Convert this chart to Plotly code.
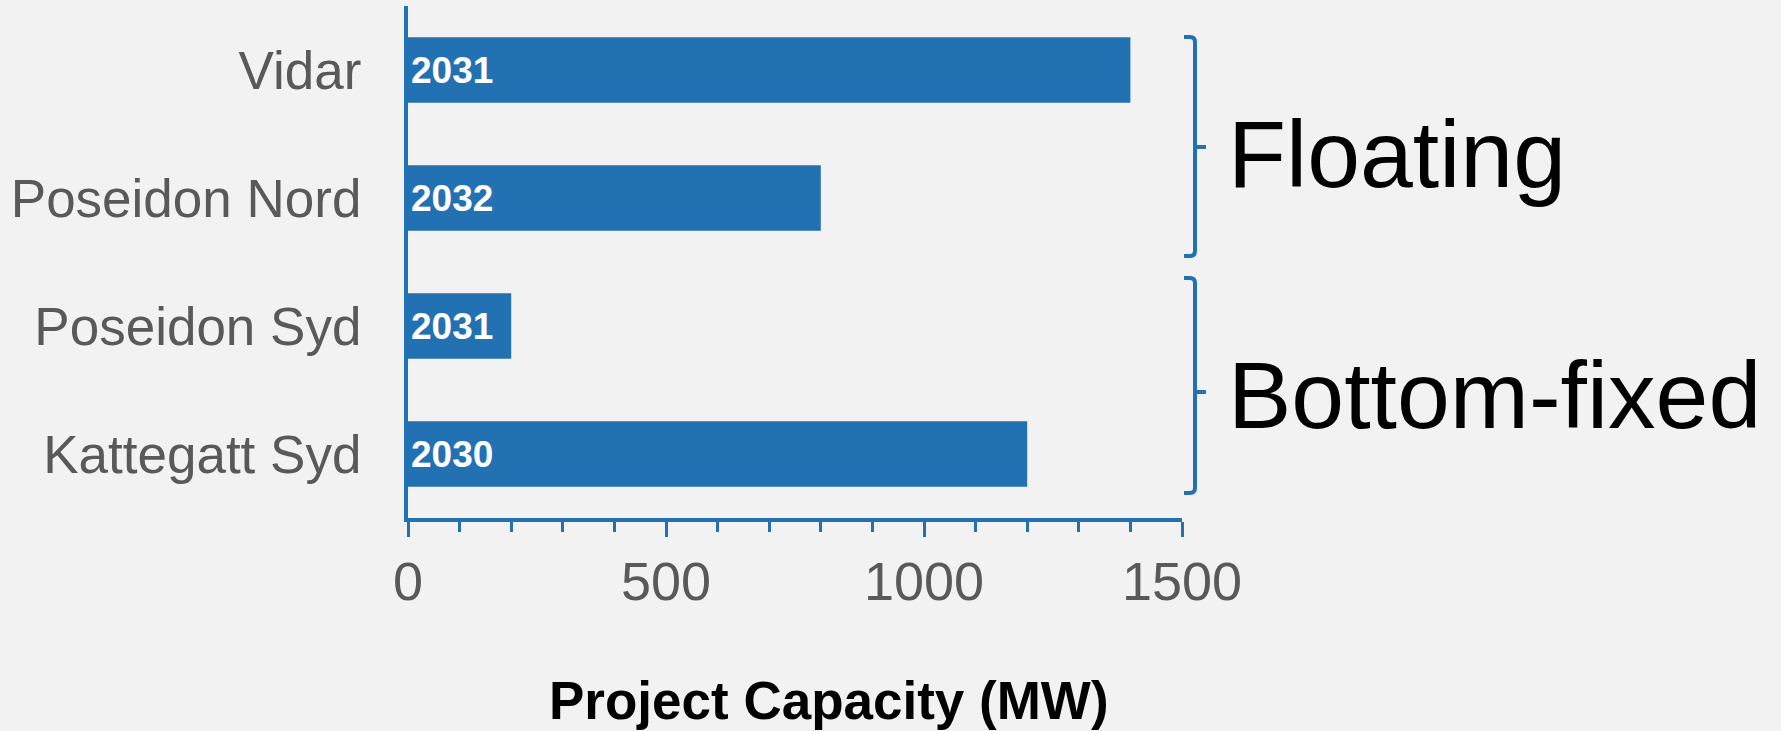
import plotly.graph_objects as go

# ---- data ----
projects = ["Vidar", "Poseidon Nord", "Poseidon Syd", "Kattegatt Syd"]
capacity_mw = [1400, 800, 200, 1200]
start_year = ["2031", "2032", "2031", "2030"]
x_ticks = [0, 500, 1000, 1500]
group_labels = ["Floating", "Bottom-fixed"]

BLUE = "#2271B3"
BG = "#F2F2F2"
GREY = "#595959"
FONT = "Arial, Liberation Sans, sans-serif"

fig = go.Figure(
    go.Bar(
        y=projects,
        x=capacity_mw,
        orientation="h",
        marker=dict(color=BLUE, line=dict(width=0)),
        width=0.51,
        text=start_year,
        textposition="inside",
        insidetextanchor="start",
        constraintext="none",
        textangle=0,
        textfont=dict(family=FONT, size=37, color="white", weight="bold"),
        hoverinfo="skip",
    )
)

fig.update_layout(
    width=1781,
    height=731,
    margin=dict(l=408, r=599, t=6, b=213, pad=0, autoexpand=False),
    paper_bgcolor=BG,
    plot_bgcolor=BG,
    showlegend=False,
    font=dict(family=FONT, color=GREY),
    xaxis=dict(
        range=[0, 1500],
        tickvals=x_ticks,
        ticktext=[str(v) for v in x_ticks],
        ticks="outside",
        ticklen=15,
        tickwidth=3,
        tickcolor=BLUE,
        showline=True,
        linecolor=BLUE,
        linewidth=3.5,
        showgrid=False,
        zeroline=False,
        automargin=False,
        tickfont=dict(family=FONT, size=54, color=GREY),
        ticklabelstandoff=-2,
        minor=dict(dtick=100, ticks="outside", ticklen=10, tickwidth=3,
                   tickcolor=BLUE, showgrid=False),
        fixedrange=True,
    ),
    yaxis=dict(
        autorange="reversed",
        showline=True,
        linecolor=BLUE,
        linewidth=4,
        ticks="",
        showgrid=False,
        zeroline=False,
        automargin=False,
        tickfont=dict(family=FONT, size=53, color=GREY),
        ticklabelstandoff=32,
        fixedrange=True,
    ),
)

# ---- group brackets (paper coordinates) ----
def bracket(ty, by, my, x0=1.0026, x1=1.0168, x2=1.031, rx=0.0065, ry=0.0098):
    return (f"M {x0},{ty} L {x1 - rx},{ty} Q {x1},{ty} {x1},{ty - ry} "
            f"L {x1},{by + ry} Q {x1},{by} {x1 - rx},{by} L {x0},{by} "
            f"M {x1},{my} L {x2},{my}")

brackets = [(0.9395, 0.5117, 0.7246), (0.4687, 0.0488, 0.2461)]
label_offsets = [-0.014, -0.006]
for ty, by, my in brackets:
    fig.add_shape(type="path", xref="paper", yref="paper",
                  path=bracket(ty, by, my),
                  line=dict(color=BLUE, width=4))

for label, (ty, by, my), dy in zip(group_labels, brackets, label_offsets):
    fig.add_annotation(
        text=label, xref="paper", yref="paper",
        x=1.057, y=my + dy, xanchor="left", yanchor="middle",
        showarrow=False,
        font=dict(family=FONT, size=95, color="black"),
    )

# ---- x axis title ----
fig.add_annotation(
    text="<b>Project Capacity (MW)</b>", xref="paper", yref="paper",
    x=0.544, y=-0.357, xanchor="center", yanchor="middle",
    showarrow=False,
    font=dict(family=FONT, size=53, color="black"),
)

fig.write_html(
    "out.html",
    config={"displayModeBar": False},
    post_script="document.body.style.margin='0';document.body.style.padding='0';",
)
